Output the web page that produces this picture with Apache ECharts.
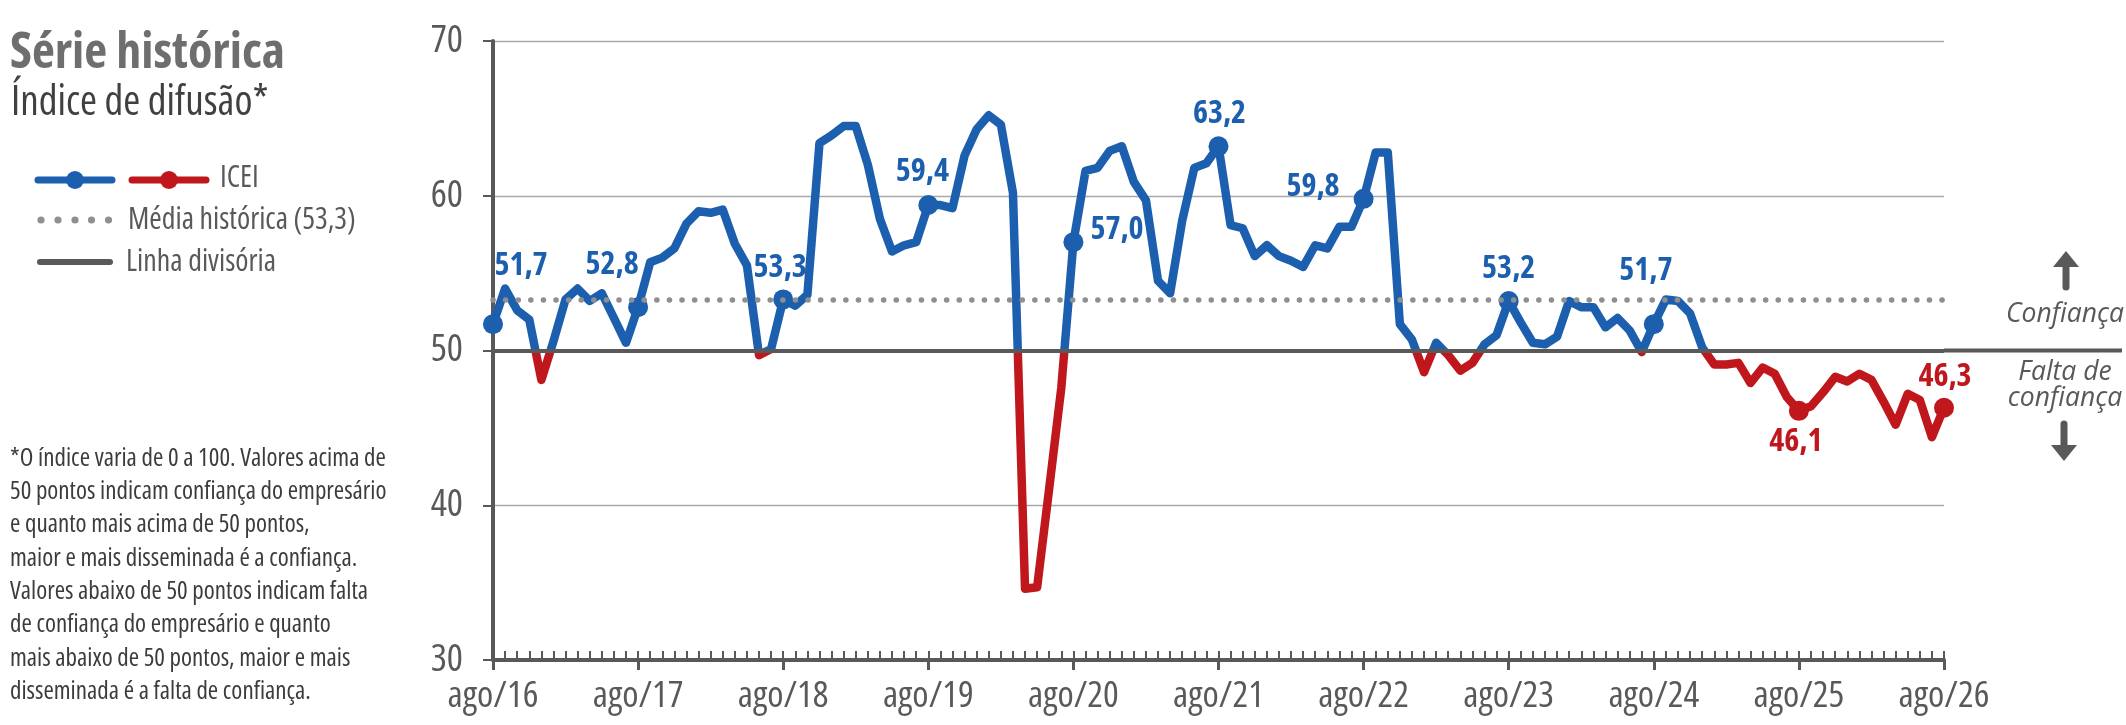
<!DOCTYPE html>
<html>
<head>
<meta charset="utf-8">
<title>Série histórica - ICEI</title>
<script src="https://cdn.jsdelivr.net/npm/echarts@6/dist/echarts.min.js"></script>
<style>
    html, body { margin: 0; background: #fff; }
    #main { width: 2126px; height: 725px; }
</style>
</head>
<body>
<div id="main"></div>
<script>
    // procura uma família instalada que aceite largura condensada no canvas
    function pickCondensed(names) {
        var ctx = document.createElement('canvas').getContext('2d');
        var probe = 'Série histórica 0123456789';
        for (var i = 0; i < names.length; i++) {
            var fam = '"' + names[i] + '"';
            ctx.font = 'bold 40px serif';
            ctx.font = 'bold 40px ' + fam;
            var wN = ctx.measureText(probe).width;
            ctx.font = 'bold 40px serif';
            ctx.font = 'condensed bold 40px ' + fam;
            if (ctx.font === 'bold 40px serif') continue;
            var wC = ctx.measureText(probe).width;
            if (wC < wN * 0.92) return fam;
        }
        return null;
    }
    var condFam = pickCondensed(['Noto Sans', 'Open Sans', 'Roboto']);
    var FONT = condFam || '"DejaVu Sans Condensed"';
    var STRETCH = condFam ? 'condensed' : '';
    function font(extra, size) {
        return [STRETCH, extra, size + 'px', FONT].join(' ').trim();
    }

    var BLUE = '#1b5fae', RED = '#c0171d', DARK = '#595959', DOT = '#8f8f8f';

    // meses de ago/16 a ago/26
    var monthNames = ['ago', 'set', 'out', 'nov', 'dez', 'jan', 'fev', 'mar', 'abr', 'mai', 'jun', 'jul'];
    var categories = [];
    for (var k = 0; k <= 120; k++) {
        categories.push(monthNames[k % 12] + '/' + (16 + Math.floor((k + 7) / 12)));
    }

    // ICEI (índice de difusão), mensal
    var icei = [
        51.7, 54.0, 52.6, 52.0, 48.1, 50.6, 53.3, 54.0, 53.2, 53.7, 52.1, 50.5,
        52.8, 55.7, 56.0, 56.6, 58.2, 59.0, 58.9, 59.1, 56.9, 55.5, 49.7, 50.1,
        53.3, 52.9, 53.6, 63.4, 63.9, 64.5, 64.5, 62.0, 58.5, 56.4, 56.8, 57.0,
        59.4, 59.4, 59.2, 62.6, 64.3, 65.2, 64.6, 60.2, 34.6, 34.7, 41.1, 47.6,
        57.0, 61.6, 61.8, 62.9, 63.2, 60.9, 59.7, 54.5, 53.7, 58.4, 61.8, 62.1,
        63.2, 58.1, 57.9, 56.1, 56.8, 56.1, 55.8, 55.4, 56.8, 56.6, 58.0, 58.0,
        59.8, 62.8, 62.8, 51.7, 50.7, 48.6, 50.5, 49.7, 48.7, 49.2, 50.4, 51.0,
        53.2, 51.8, 50.5, 50.4, 50.9, 53.2, 52.8, 52.8, 51.5, 52.1, 51.3, 49.9,
        51.7, 53.3, 53.2, 52.4, 50.2, 49.1, 49.1, 49.2, 47.9, 48.9, 48.5, 47.0,
        46.1, 46.4, 47.3, 48.3, 48.0, 48.5, 48.1, 46.7, 45.2, 47.2, 46.8, 44.4,
        46.3
    ];
    var mediaHistorica = 53.3;
    var linhaDivisoria = 50;
    var yMin = 30, yMax = 70, yStep = 10;

    // posição dos rótulos de agosto (um por ano)
    var labelPlacement = [
        { position: 'top', offset: [28, -27] },
        { position: 'top', offset: [-26, -11] },
        { position: 'top', offset: [-3, -1] },
        { position: 'top', offset: [-6, -2] },
        { position: 'right', distance: 7, offset: [0, -12] },
        { position: 'top', offset: [1, -1] },
        { position: 'left', distance: 14, offset: [0, -12] },
        { position: 'top', offset: [0, -1] },
        { position: 'top', offset: [-8, -22] },
        { position: 'bottom', offset: [-3, 0] },
        { position: 'top', offset: [1, 0] }
    ];

    var seriesData = icei.map(function (v, i) {
        if (i % 12 !== 0) return v;
        var p = labelPlacement[i / 12];
        return {
            value: v,
            label: {
                show: true,
                position: p.position,
                distance: p.distance || 5,
                offset: p.offset,
                formatter: v.toFixed(1).replace('.', ','),
                color: v < linhaDivisoria ? RED : BLUE
            }
        };
    });

    var chart = echarts.init(document.getElementById('main'));

    var option = {
        animation: false,
        grid: { left: 493, right: 182, top: 41, bottom: 65 },
        visualMap: {
            show: false,
            type: 'piecewise',
            dimension: 1,
            seriesIndex: 0,
            pieces: [
                { gte: 0, lt: linhaDivisoria, color: RED },
                { gte: linhaDivisoria, lte: 100, color: BLUE }
            ]
        },
        xAxis: [
            {
                type: 'category',
                data: categories,
                boundaryGap: false,
                axisLine: { lineStyle: { color: DARK, width: 4 } },
                axisTick: { show: true, interval: 0, inside: true, length: 9, lineStyle: { color: DARK, width: 2 } },
                axisLabel: { show: false },
                splitLine: { show: false }
            },
            {
                type: 'category',
                data: categories,
                boundaryGap: false,
                position: 'bottom',
                axisLine: { show: false },
                axisTick: { show: true, interval: 11, length: 10, lineStyle: { color: DARK, width: 3 } },
                axisLabel: { interval: 11, margin: 18, fontFamily: FONT, fontStyle: STRETCH || 'normal', fontSize: 37, color: DARK },
                splitLine: { show: false }
            }
        ],
        yAxis: {
            type: 'value',
            min: yMin,
            max: yMax,
            interval: yStep,
            axisLine: { show: true, lineStyle: { color: DARK, width: 4 } },
            axisTick: { show: true, length: 10, lineStyle: { color: DARK, width: 2 } },
            axisLabel: { margin: 30, fontFamily: FONT, fontStyle: STRETCH || 'normal', fontSize: 38, color: DARK },
            splitLine: { lineStyle: { color: '#a8a8a8', width: 1.3 } }
        },
        series: [
            {
                name: 'ICEI',
                type: 'line',
                xAxisIndex: 0,
                yAxisIndex: 0,
                data: seriesData,
                symbol: 'circle',
                symbolSize: function (val, params) {
                    return params.dataIndex % 12 === 0 ? 20 : 0;
                },
                showAllSymbol: true,
                lineStyle: { width: 8.5, join: 'round' },
                label: { show: false, fontFamily: FONT, fontStyle: STRETCH || 'normal', fontSize: 32, fontWeight: 'bold' },
                emphasis: { disabled: true },
                markLine: {
                    silent: true,
                    symbol: 'none',
                    label: { show: false },
                    data: [
                        { yAxis: mediaHistorica, lineStyle: { type: [0.1, 12.5], cap: 'round', width: 5.5, color: DOT } },
                        { yAxis: linhaDivisoria, lineStyle: { type: 'solid', width: 4, color: DARK } }
                    ]
                }
            }
        ]
    };
    chart.setOption(option);

    // prolonga a linha divisória até a borda direita
    var y50 = chart.convertToPixel({ yAxisIndex: 0 }, linhaDivisoria);
    var xEnd = chart.convertToPixel({ xAxisIndex: 0 }, categories[categories.length - 1]);

    var legendDots = [];
    [41, 58, 75, 91.5, 108.5].forEach(function (cx) {
        legendDots.push({ type: 'circle', shape: { cx: cx, cy: 220, r: 3.6 }, style: { fill: DOT } });
    });

    var sideFont = 'italic 26.5px ' + FONT;

    chart.setOption({
        graphic: [
            { type: 'line', shape: { x1: xEnd, y1: y50, x2: 2122, y2: y50 }, style: { stroke: DARK, lineWidth: 4 } },

            { type: 'text', x: 10, y: 54, style: { text: 'Série histórica', font: font('bold', 50), fill: '#6e6e6e', verticalAlign: 'middle' } },
            { type: 'text', x: 11, y: 103, style: { text: 'Índice de difusão*', font: font('', 41), fill: '#404040', verticalAlign: 'middle' } },

            // legenda
            { type: 'line', shape: { x1: 38, y1: 180, x2: 112, y2: 180 }, style: { stroke: BLUE, lineWidth: 7, lineCap: 'round' } },
            { type: 'circle', shape: { cx: 75, cy: 180, r: 9 }, style: { fill: BLUE } },
            { type: 'line', shape: { x1: 132, y1: 180, x2: 206, y2: 180 }, style: { stroke: RED, lineWidth: 7, lineCap: 'round' } },
            { type: 'circle', shape: { cx: 169, cy: 180, r: 9 }, style: { fill: RED } },
            { type: 'text', x: 220, y: 178, style: { text: 'ICEI', font: font('', 30), fill: DARK, verticalAlign: 'middle' } }
        ].concat(legendDots).concat([
            { type: 'text', x: 128, y: 220, style: { text: 'Média histórica (53,3)', font: font('', 30), fill: DARK, verticalAlign: 'middle' } },
            { type: 'line', shape: { x1: 40, y1: 262, x2: 110, y2: 262 }, style: { stroke: DARK, lineWidth: 6, lineCap: 'round' } },
            { type: 'text', x: 126, y: 262, style: { text: 'Linha divisória', font: font('', 30), fill: DARK, verticalAlign: 'middle' } },

            // nota
            {
                type: 'text', x: 10, y: 442,
                style: {
                    text: '*O índice varia de 0 a 100. Valores acima de\n50 pontos indicam confiança do empresário\ne quanto mais acima de 50 pontos,\nmaior e mais disseminada é a confiança.\nValores abaixo de 50 pontos indicam falta\nde confiança do empresário e quanto\nmais abaixo de 50 pontos, maior e mais\ndisseminada é a falta de confiança.',
                    font: font('', 25), fill: '#3c3c3c', lineHeight: 33.3, verticalAlign: 'top'
                }
            },

            // confiança / falta de confiança
            { type: 'polygon', shape: { points: [[2066, 251], [2053, 267], [2079, 267]] }, style: { fill: DARK } },
            { type: 'line', shape: { x1: 2066, y1: 262, x2: 2066, y2: 287 }, style: { stroke: DARK, lineWidth: 7, lineCap: 'round' } },
            { type: 'text', x: 2065, y: 314, style: { text: 'Confiança', font: sideFont, fill: DARK, align: 'center', verticalAlign: 'middle' } },
            { type: 'text', x: 2065, y: 372, style: { text: 'Falta de', font: sideFont, fill: DARK, align: 'center', verticalAlign: 'middle' } },
            { type: 'text', x: 2065, y: 398, style: { text: 'confiança', font: sideFont, fill: DARK, align: 'center', verticalAlign: 'middle' } },
            { type: 'line', shape: { x1: 2064, y1: 424, x2: 2064, y2: 449 }, style: { stroke: DARK, lineWidth: 7, lineCap: 'round' } },
            { type: 'polygon', shape: { points: [[2064, 461], [2051, 445], [2077, 445]] }, style: { fill: DARK } }
        ])
    });
</script>
</body>
</html>
